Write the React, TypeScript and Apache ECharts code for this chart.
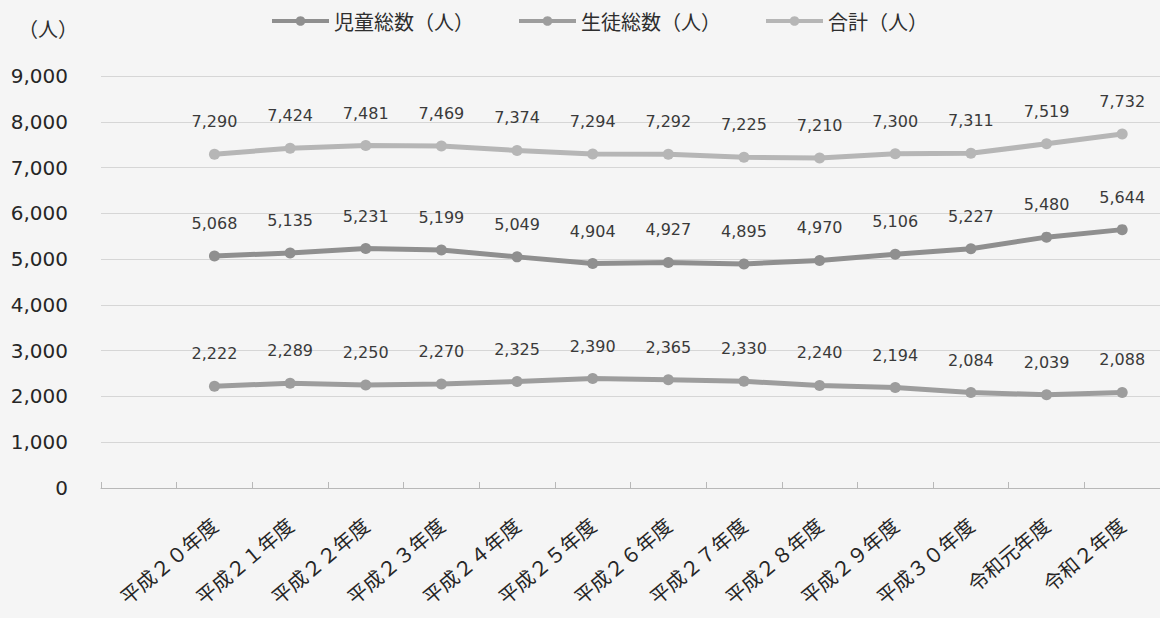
import React, { useEffect, useRef } from "react";
import * as echarts from "echarts";

// 年度（全角表記）
const years = [
  "平成２０年度",
  "平成２１年度",
  "平成２２年度",
  "平成２３年度",
  "平成２４年度",
  "平成２５年度",
  "平成２６年度",
  "平成２７年度",
  "平成２８年度",
  "平成２９年度",
  "平成３０年度",
  "令和元年度",
  "令和２年度",
];

const jidou = [5068, 5135, 5231, 5199, 5049, 4904, 4927, 4895, 4970, 5106, 5227, 5480, 5644];
const seito = [2222, 2289, 2250, 2270, 2325, 2390, 2365, 2330, 2240, 2194, 2084, 2039, 2088];
const goukei = [7290, 7424, 7481, 7469, 7374, 7294, 7292, 7225, 7210, 7300, 7311, 7519, 7732];

const yTicks = [0, 1000, 2000, 3000, 4000, 5000, 6000, 7000, 8000, 9000];

const seriesNames = ["児童総数（人）", "生徒総数（人）", "合計（人）"];
const seriesColors = ["#8f8f8f", "#9d9d9d", "#b6b6b6"];

const LATIN = "'DejaVu Sans', 'Noto Sans CJK JP', sans-serif";
const CJK = "'Noto Sans CJK JP', 'DejaVu Sans', sans-serif";

const fmt = (v: number) => v.toLocaleString("en-US");

export default function App() {
  const ref = useRef<HTMLDivElement>(null);

  useEffect(() => {
    if (!ref.current) return;
    const chart = echarts.init(ref.current, undefined, { renderer: "svg" });

    // an empty leading slot keeps the first year one band in from the axis start
    const categories = ["", ...years];
    const pad = (arr: number[]) => [null, ...arr];

    const makeSeries = (name: string, data: number[], color: string) => ({
      name,
      type: "line",
      data: pad(data),
      symbol: "circle",
      symbolSize: 11,
      lineStyle: { color, width: 5 },
      itemStyle: { color },
      label: {
        show: true,
        position: "top",
        distance: 19,
        color: "#3a3a3a",
        fontFamily: LATIN,
        fontSize: 16,
        formatter: (p: any) => (p.value == null ? "" : fmt(p.value)),
      },
    });

    chart.setOption({
      animation: false,
      backgroundColor: "#f5f5f5",
      legend: {
        left: 265,
        top: 6,
        itemWidth: 57,
        itemHeight: 12,
        itemGap: 43,
        lineStyle: { width: 4 },
        textStyle: { color: "#2e2e2e", fontFamily: CJK, fontSize: 20 },
        data: seriesNames,
      },
      graphic: [
        {
          type: "text",
          left: 18,
          top: 18,
          style: { text: "（人）", fontFamily: CJK, fontSize: 20, fill: "#2e2e2e" },
        },
      ],
      grid: { left: 101, right: 0, top: 76, bottom: 130 },
      xAxis: {
        type: "category",
        data: categories,
        boundaryGap: true,
        axisLine: { show: true, lineStyle: { color: "#b8b8b8", width: 1 } },
        axisTick: { show: true, inside: true, length: 6, lineStyle: { color: "#b8b8b8" } },
        axisLabel: {
          rotate: 40,
          margin: 34,
          interval: 0,
          color: "#262626",
          fontFamily: CJK,
          fontSize: 20,
        },
      },
      yAxis: {
        type: "value",
        min: yTicks[0],
        max: yTicks[yTicks.length - 1],
        interval: 1000,
        axisLine: { show: false },
        axisTick: { show: false },
        splitLine: { lineStyle: { color: "#d6d6d6", width: 1 } },
        axisLabel: {
          margin: 33,
          color: "#262626",
          fontFamily: LATIN,
          fontSize: 20,
          formatter: (v: number) => fmt(v),
        },
      },
      series: [
        makeSeries(seriesNames[0], jidou, seriesColors[0]),
        makeSeries(seriesNames[1], seito, seriesColors[1]),
        makeSeries(seriesNames[2], goukei, seriesColors[2]),
      ],
    });

    return () => chart.dispose();
  }, []);

  return (
    <div
      ref={ref}
      style={{ position: "absolute", left: 0, top: 0, width: 1160, height: 618 }}
    />
  );
}
